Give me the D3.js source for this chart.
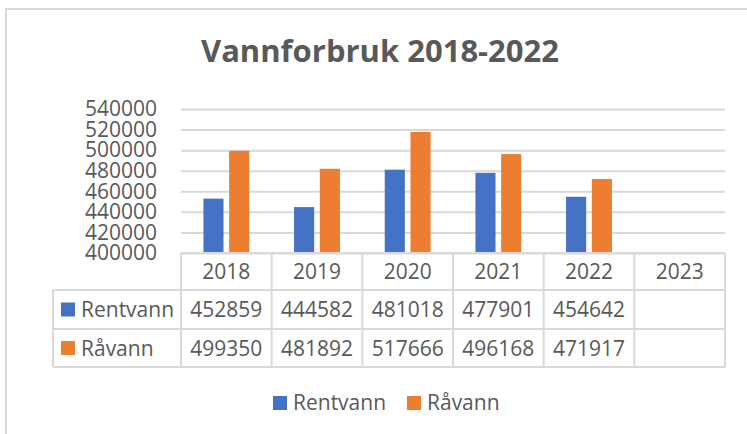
<!DOCTYPE html>
<html lang="no">
  <head>
    <meta charset="utf-8">
    <title>Vannforbruk 2018-2022</title>
    <script src="https://d3js.org/d3.v7.js"></script>
    <style>
      body { margin: 0; background: #fff; }
      text { font-family: "Open Sans", sans-serif; fill: #595959; }
    </style>
  </head>

  <body>

  <script>

// Data

  var years = ["2018", "2019", "2020", "2021", "2022", "2023"];
  var seriesNames = ["Rentvann", "Råvann"];
  var rentvann = [452859, 444582, 481018, 477901, 454642, null];
  var raavann = [499350, 481892, 517666, 496168, 471917, null];
  var yTicks = [400000, 420000, 440000, 460000, 480000, 500000, 520000, 540000];
  var colors = ["#4472C4", "#ED7D31"];

  var w = 747;
  var h = 434;
  var plot = {left: 181, right: 725, top: 109, bottom: 253};
  var rowLines = [253, 290, 329, 367];   // table row borders
  var tableLeft = 53;
  var grey = "#D9D9D9";
  var fontSize = 21;

  var series = [rentvann, raavann];

  var svg = d3.select("body")
    .append("svg")
      .attr("width", w)
      .attr("height", h);

  // chart frame
  svg.append("rect")
      .attr("x", 6)
      .attr("y", 9)
      .attr("width", 780)
      .attr("height", 460)
      .attr("fill", "#fff")
      .attr("stroke", grey)
      .attr("stroke-width", 2);

  // title
  svg.append("text")
      .attr("x", 380)
      .attr("y", 62)
      .attr("text-anchor", "middle")
      .style("font-size", "31px")
      .style("font-weight", "bold")
      .text("Vannforbruk 2018-2022");

  var xScale = d3.scaleBand()
      .domain(years)
      .range([plot.left, plot.right]);

  var xInner = d3.scaleBand()
      .domain(d3.range(series.length))
      .range([0, xScale.bandwidth()])
      .paddingInner(0.22)
      .paddingOuter(0.87);

  var yScale = d3.scaleLinear()
      .domain([d3.min(yTicks), d3.max(yTicks)])
      .range([plot.bottom, plot.top]);

  // gridlines + y labels
  var yAxis = d3.axisLeft(yScale)
      .tickValues(yTicks)
      .tickFormat(d3.format("d"))
      .tickSize(-(plot.right - plot.left))
      .tickPadding(24);

  var gy = svg.append("g")
      .attr("transform", `translate (${plot.left}, 0)`)
      .call(yAxis);

  gy.select(".domain").remove();
  gy.selectAll(".tick line")
      .attr("stroke", grey)
      .attr("stroke-width", 2);
  gy.selectAll(".tick text")
      .style("font-size", fontSize + "px")
      .attr("fill", "#595959");

  // bars
  series.forEach(function (vals, s) {
    svg.append("g")
      .selectAll("rect")
      .data(years.map((y, i) => ({year: y, value: vals[i]})).filter(d => d.value != null))
      .enter().append("rect")
        .attr("x", d => xScale(d.year) + xInner(s))
        .attr("y", d => yScale(d.value))
        .attr("width", xInner.bandwidth())
        .attr("height", d => plot.bottom - yScale(d.value))
        .attr("fill", colors[s]);
  });

  // data table
  var table = svg.append("g")
      .attr("stroke", grey)
      .attr("stroke-width", 2);

  rowLines.forEach(function (y, i) {
    table.append("line")
        .attr("x1", i == 0 ? plot.left : tableLeft)
        .attr("x2", plot.right)
        .attr("y1", y)
        .attr("y2", y);
  });

  var bounds = years.map(d => xScale(d)).concat([plot.right]);
  bounds.forEach(function (x) {
    table.append("line")
        .attr("x1", x)
        .attr("x2", x)
        .attr("y1", rowLines[0])
        .attr("y2", rowLines[3]);
  });

  table.append("line")
      .attr("x1", tableLeft)
      .attr("x2", tableLeft)
      .attr("y1", rowLines[1])
      .attr("y2", rowLines[3]);

  var cellText = function (y0, y1) { return (y0 + y1) / 2 + 7.5; };

  svg.append("g")
    .selectAll("text")
    .data(years)
    .enter().append("text")
      .attr("x", d => xScale(d) + xScale.bandwidth() / 2)
      .attr("y", cellText(rowLines[0], rowLines[1]))
      .attr("text-anchor", "middle")
      .style("font-size", fontSize + "px")
      .text(d => d);

  series.forEach(function (vals, s) {
    var y0 = rowLines[s + 1], y1 = rowLines[s + 2];
    var row = svg.append("g");

    row.append("rect")
        .attr("x", 61)
        .attr("y", (y0 + y1) / 2 - 7)
        .attr("width", 14)
        .attr("height", 14)
        .attr("fill", colors[s]);

    row.append("text")
        .attr("x", 81)
        .attr("y", cellText(y0, y1))
        .style("font-size", fontSize + "px")
        .text(seriesNames[s]);

    row.selectAll("text.val")
      .data(years.map((y, i) => ({year: y, value: vals[i]})).filter(d => d.value != null))
      .enter().append("text")
        .attr("class", "val")
        .attr("x", d => xScale(d.year) + xScale.bandwidth() / 2)
        .attr("y", cellText(y0, y1))
        .attr("text-anchor", "middle")
        .style("font-size", fontSize + "px")
        .text(d => d.value);
  });

  // legend
  var legendX = [273, 407];
  var legend = svg.append("g");
  seriesNames.forEach(function (name, s) {
    legend.append("rect")
        .attr("x", legendX[s])
        .attr("y", 396)
        .attr("width", 14)
        .attr("height", 14)
        .attr("fill", colors[s]);
    legend.append("text")
        .attr("x", legendX[s] + 20)
        .attr("y", 410)
        .style("font-size", fontSize + "px")
        .text(name);
  });

  </script>

  </body>

</html>
